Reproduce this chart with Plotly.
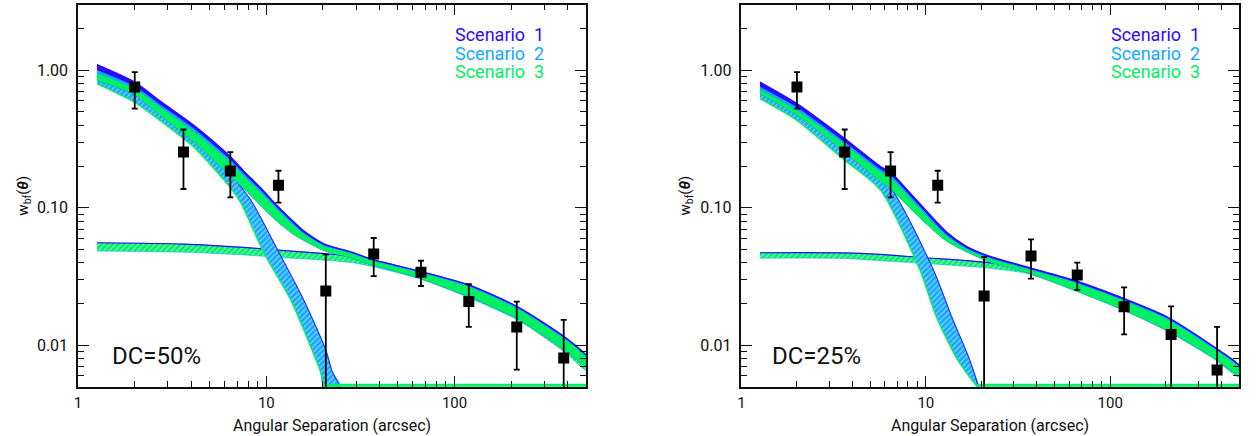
import plotly.graph_objects as go

# ---------------- data points (same angular bins in both panels) ----------------
theta = [2.0, 3.63, 6.44, 11.6, 20.7, 37.2, 66.3, 119, 214, 380]

w_dc50 = [0.756, 0.255, 0.185, 0.146, 0.0248, 0.0461, 0.034, 0.0208, 0.0136, 0.0081]
w_dc50_top = [0.97, 0.371, 0.254, 0.186, 0.0458, 0.0603, 0.0412, 0.0278, 0.0208, 0.0153]
w_dc50_bot = [0.527, 0.137, 0.119, 0.109, 0.002, 0.0319, 0.027, 0.0136, 0.00666, 0.002]

w_dc25 = [0.756, 0.255, 0.185, 0.146, 0.0228, 0.0446, 0.0325, 0.0191, 0.012, 0.0066]
w_dc25_top = [0.97, 0.371, 0.254, 0.186, 0.044, 0.0589, 0.0399, 0.0264, 0.0192, 0.0136]
w_dc25_bot = [0.527, 0.137, 0.119, 0.109, 0.002, 0.0305, 0.0253, 0.012, 0.002, 0.002]

# ---------------- model bands, DC = 50% ----------------
tot50_x = [1.26, 2.0, 2.74, 4.12, 6.46, 7.6, 9.33, 11.4, 14.0, 15.8, 20.2, 28.1, 37.3, 47.6, 66, 119, 216, 382, 500]
tot50_s1 = [1.10, 0.82, 0.595, 0.399, 0.235, 0.185, 0.14, 0.104, 0.079, 0.068, 0.0548, 0.0478, 0.0418, 0.0385, 0.0345, 0.0275, 0.0191, 0.0116, 0.0085]
tot50_s2 = [1.0, 0.76, 0.56, 0.375, 0.222, 0.176, 0.134, 0.100, 0.076, 0.0655, 0.0535, 0.0470, 0.0412, 0.0379, 0.0340, 0.0270, 0.0187, 0.0113, 0.0083]
tot50_s3 = [0.946, 0.73, 0.535, 0.358, 0.213, 0.169, 0.129, 0.097, 0.074, 0.0645, 0.0527, 0.0465, 0.0408, 0.0375, 0.0336, 0.0266, 0.0184, 0.0111, 0.0082]
tot50_lo = [0.846, 0.665, 0.471, 0.302, 0.17, 0.138, 0.104, 0.080, 0.064, 0.058, 0.049, 0.0433, 0.038, 0.0348, 0.0306, 0.0226, 0.0156, 0.0093, 0.0071]

one50_up_x = [1.26, 2.0, 2.74, 4.12, 6.46, 8.3, 11.7, 15.8, 20.7, 22.4, 24.8]
one50_up_y = [0.92, 0.70, 0.52, 0.34, 0.175, 0.113, 0.047, 0.0214, 0.00926, 0.00646, 0.005]
one50_lo_x = [1.26, 2.0, 2.74, 4.12, 6.46, 7.3, 9.8, 13.5, 17.5, 19.4, 20.2]
one50_lo_y = [0.80, 0.585, 0.43, 0.277, 0.14, 0.11, 0.046, 0.0214, 0.00926, 0.00646, 0.005]
floor50_x = [20.2, 500]

two50_x = [1.26, 3.65, 7.6, 12.0, 19.8, 28.1, 37.3, 66, 119, 216, 382, 500]
two50_hi = [0.0557, 0.0545, 0.0515, 0.049, 0.0466, 0.0445, 0.041, 0.0338, 0.0268, 0.0186, 0.0113, 0.0083]
two50_lo = [0.0485, 0.0475, 0.0454, 0.0435, 0.0417, 0.040, 0.0372, 0.0303, 0.0222, 0.0153, 0.0090, 0.0066]

# ---------------- model bands, DC = 25% ----------------
tot25_x = [1.26, 2.0, 3.63, 5.67, 6.42, 8.7, 12.9, 16.6, 22.1, 36.3, 63.4, 112, 202, 364, 500]
tot25_s1 = [0.822, 0.573, 0.319, 0.20, 0.182, 0.118, 0.067, 0.0525, 0.0445, 0.0368, 0.0298, 0.0226, 0.0162, 0.0098, 0.0072]
tot25_s2 = [0.756, 0.535, 0.300, 0.19, 0.173, 0.112, 0.064, 0.0508, 0.0433, 0.0359, 0.029, 0.0220, 0.0158, 0.0096, 0.0070]
tot25_s3 = [0.716, 0.51, 0.288, 0.182, 0.165, 0.108, 0.0625, 0.0500, 0.0427, 0.0354, 0.0286, 0.0216, 0.0155, 0.0094, 0.0069]
tot25_lo = [0.677, 0.471, 0.255, 0.155, 0.138, 0.092, 0.0575, 0.048, 0.0405, 0.0335, 0.0252, 0.0186, 0.0129, 0.0081, 0.0061]

one25_up_x = [1.26, 2.0, 3.63, 6.29, 11.0, 13.8, 17.3, 19.3]
one25_up_y = [0.70, 0.49, 0.262, 0.146, 0.0353, 0.0162, 0.00783, 0.005]
one25_lo_x = [1.26, 2.0, 3.63, 5.67, 9.3, 11.4, 14.9, 19.0]
one25_lo_y = [0.623, 0.433, 0.222, 0.135, 0.0353, 0.0162, 0.00783, 0.005]
floor25_x = [19.0, 500]

two25_x = [1.26, 3.63, 5.67, 9.5, 19.7, 28, 36.3, 63.4, 112, 202, 364, 500]
two25_hi = [0.0471, 0.047, 0.0458, 0.0435, 0.0405, 0.0385, 0.0362, 0.029, 0.0220, 0.0158, 0.0096, 0.0070]
two25_lo = [0.0430, 0.0428, 0.0412, 0.0395, 0.0369, 0.0350, 0.0330, 0.0254, 0.0186, 0.0128, 0.0080, 0.0059]

floor_y = [0.005, 0.005]

scenario_labels = ["Scenario\u00a0\u00a01", "Scenario\u00a0\u00a02", "Scenario\u00a0\u00a03"]
dc_labels = ["DC=50%", "DC=25%"]

# ---------------- styling ----------------
C1 = "#2a0cff"
C2 = "#12a8ff"
C3 = "#00f064"
FONT = "Roboto, DejaVu Sans, sans-serif"

fig = go.Figure()


def poly(xu, yu, xl, yl):
    return list(xu) + list(xl)[::-1], list(yu) + list(yl)[::-1]


def add_panel(xa, ya, tot, one, two, floor_x, pts):
    tx, s1, s2, s3, lo = tot
    ux, uy, lx, ly = one
    wx, whi, wlo = two
    px, py, ptop, pbot = pts
    kw = dict(xaxis=xa, yaxis=ya, showlegend=False, hoverinfo="skip", mode="lines")
    sp = dict(shape="spline", smoothing=0.7)

    # two-halo term (hatched)
    X, Y = poly(wx, whi, wx, wlo)
    fig.add_trace(go.Scatter(x=X, y=Y, fill="toself", line=dict(width=0.6, color=C2, **sp),
                             fillcolor=C3,
                             fillpattern=dict(shape="/", fgcolor="white", bgcolor=C3,
                                              size=4, solidity=0.3), **kw))
    fig.add_trace(go.Scatter(x=wx, y=whi, line=dict(width=1.2, color=C1, **sp), **kw))

    # one-halo term (hatched)
    X, Y = poly(ux, uy, lx, ly)
    fig.add_trace(go.Scatter(x=X, y=Y, fill="toself", line=dict(width=0.6, color=C2, **sp),
                             fillcolor=C2,
                             fillpattern=dict(shape="/", fgcolor="white", bgcolor=C2,
                                              size=4, solidity=0.3), **kw))
    fig.add_trace(go.Scatter(x=lx, y=ly, line=dict(width=1.5, color=C3, **sp), **kw))
    fig.add_trace(go.Scatter(x=ux, y=uy, line=dict(width=1.0, color=C1, **sp), **kw))
    fig.add_trace(go.Scatter(x=floor_x, y=floor_y, line=dict(width=6, color=C3), **kw))

    # total (solid bands)
    for top, col in ((s1, C1), (s2, C2), (s3, C3)):
        X, Y = poly(tx, top, tx, lo)
        fig.add_trace(go.Scatter(x=X, y=Y, fill="toself", fillcolor=col,
                                 line=dict(width=0.5, color=col, **sp), **kw))
    fig.add_trace(go.Scatter(x=tx, y=s1, line=dict(width=1.2, color=C1, **sp), **kw))

    # measurements
    fig.add_trace(go.Scatter(
        x=px, y=py, mode="markers", xaxis=xa, yaxis=ya, showlegend=False,
        marker=dict(symbol="square", size=11, color="black"),
        error_y=dict(type="data", symmetric=False,
                     array=[t - v for t, v in zip(ptop, py)],
                     arrayminus=[v - b for v, b in zip(py, pbot)],
                     color="black", thickness=1.8, width=3)))


add_panel("x", "y",
          (tot50_x, tot50_s1, tot50_s2, tot50_s3, tot50_lo),
          (one50_up_x, one50_up_y, one50_lo_x, one50_lo_y),
          (two50_x, two50_hi, two50_lo), floor50_x,
          (theta, w_dc50, w_dc50_top, w_dc50_bot))
add_panel("x2", "y2",
          (tot25_x, tot25_s1, tot25_s2, tot25_s3, tot25_lo),
          (one25_up_x, one25_up_y, one25_lo_x, one25_lo_y),
          (two25_x, two25_hi, two25_lo), floor25_x,
          (theta, w_dc25, w_dc25_top, w_dc25_bot))

W, H = 1259, 436
ydom = [(H - 386.7) / H, (H - 4.7) / H]
xdom1 = [74.3 / W, 584.0 / W]
xdom2 = [739.8 / W, 1239.0 / W]

axis_common = dict(showline=True, linecolor="#111", linewidth=1.5, mirror="ticks",
                   ticks="inside", ticklen=11, tickwidth=1.2, tickcolor="#111",
                   showgrid=False, zeroline=False, type="log",
                   tickfont=dict(family=FONT, size=16, color="#111"),
                   minor=dict(ticks="inside", ticklen=6, tickwidth=1.0, tickcolor="#111",
                              dtick="D1", showgrid=False))

xax = dict(axis_common, range=[0, 2.699], tickmode="linear", tick0=0, dtick=1,
           ticklabelstandoff=2, tickfont=dict(family=FONT, size=15, color="#111"))
yax = dict(axis_common, range=[-2.301, 0.477], tickmode="linear", tick0=0, dtick=1,
           tickformat=".2f", ticklabelstandoff=5)

fig.update_layout(
    width=W, height=H, margin=dict(l=0, r=0, t=0, b=0),
    paper_bgcolor="white", plot_bgcolor="white",
    xaxis=dict(xax, domain=xdom1, anchor="y"),
    yaxis=dict(yax, domain=ydom, anchor="x"),
    xaxis2=dict(xax, domain=xdom2, anchor="y2"),
    yaxis2=dict(yax, domain=ydom, anchor="x2"),
    showlegend=False,
)

legend_text = "<br>".join(
    "<span style='color:%s;font-size:18px'>%s</span>" % (c, t)
    for c, t in zip((C1, C2, C3), scenario_labels))

ann = []
for i, (xd, xr, dc) in enumerate(((xdom1, "x", dc_labels[0]), (xdom2, "x2", dc_labels[1]))):
    yr = "y" if xr == "x" else "y2"
    ann.append(dict(text=legend_text, xref=xr + " domain", yref=yr + " domain",
                    x=0.738, y=0.8736, xanchor="left", yanchor="middle", align="left",
                    showarrow=False, font=dict(family=FONT, size=14.4, color=C1)))
    ann.append(dict(text=dc, xref=xr + " domain", yref=yr + " domain",
                    x=0.062 if i == 0 else 0.057, y=0.080, xanchor="left", yanchor="middle",
                    showarrow=False, font=dict(family=FONT, size=24, color="#111")))
    ann.append(dict(text="Angular Separation (arcsec)", xref="paper", yref="paper",
                    x=(xd[0] + xd[1]) / 2, y=(H - 425) / H, xanchor="center", yanchor="middle",
                    showarrow=False, font=dict(family=FONT, size=16, color="#111")))
    ann.append(dict(text="w<sub>bf</sub>(<b><i>θ</i></b>)", xref="paper", yref="paper",
                    x=(20 if i == 0 else 684) / W, y=(ydom[0] + ydom[1]) / 2,
                    xanchor="center", yanchor="middle", textangle=-90, showarrow=False,
                    font=dict(family=FONT, size=15, color="#111")))
fig.update_layout(annotations=ann)

fig.write_html("out.html", config={"displayModeBar": False},
               post_script="document.body.style.margin='0';document.body.style.padding='0';")
